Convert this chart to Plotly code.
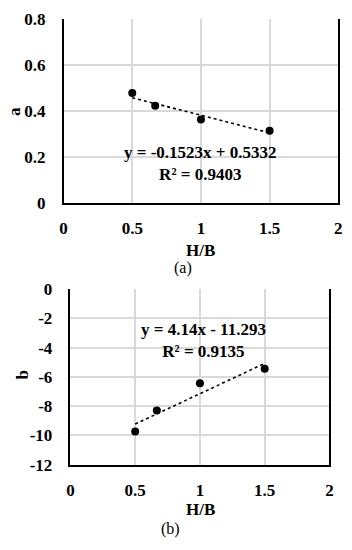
import plotly.graph_objects as go

# Data
hb = [0.5, 0.667, 1.0, 1.5]
a_vals = [0.477, 0.422, 0.363, 0.314]
b_vals = [-9.73, -8.30, -6.44, -5.45]
a_slope, a_int = -0.1523, 0.5332
b_slope, b_int = 4.14, -11.293
fit_x = [0.5, 1.5]
a_eq = "y = -0.1523x + 0.5332<br>R² = 0.9403"
b_eq = "y = 4.14x - 11.293<br>R² = 0.9135"

W, H = 352, 550
FONT = "'Liberation Serif', 'Times New Roman', Times, serif"
bold = dict(family=FONT, size=17, color="black", weight="bold")

fig = go.Figure()
fig.add_trace(go.Scatter(x=fit_x, y=[a_slope * v + a_int for v in fit_x], mode="lines",
                         line=dict(color="black", width=1.6, dash="dot"),
                         xaxis="x", yaxis="y", showlegend=False))
fig.add_trace(go.Scatter(x=hb, y=a_vals, mode="markers",
                         marker=dict(color="black", size=8),
                         xaxis="x", yaxis="y", showlegend=False))
fig.add_trace(go.Scatter(x=fit_x, y=[b_slope * v + b_int for v in fit_x], mode="lines",
                         line=dict(color="black", width=1.6, dash="dot"),
                         xaxis="x2", yaxis="y2", showlegend=False))
fig.add_trace(go.Scatter(x=hb, y=b_vals, mode="markers",
                         marker=dict(color="black", size=8),
                         xaxis="x2", yaxis="y2", showlegend=False))

def px_x(p):
    return p / W

def px_y(p):
    return 1 - p / H

xcommon = dict(range=[0, 2], tickvals=[0, 0.5, 1, 1.5, 2], ticktext=["0", "0.5", "1", "1.5", "2"],
               showgrid=True, gridcolor="#d9d9d9", gridwidth=1.5, showline=True, linecolor="black",
               linewidth=1.5, mirror=False, ticks="", tickfont=bold, zeroline=False,
               ticklabelstandoff=9)
ycommon = dict(showgrid=True, gridcolor="#d9d9d9", gridwidth=1.5, showline=True, linecolor="black",
               linewidth=1.5, mirror=True, ticks="", tickfont=bold, zeroline=False,
               ticklabelstandoff=13)

def lab(text, x, y, font, angle=0):
    return dict(text=text, x=px_x(x), y=px_y(y), xref="paper", yref="paper", showarrow=False,
                font=font, textangle=angle, xanchor="center", yanchor="middle")

fig.update_layout(
    width=W, height=H, margin=dict(l=0, r=0, t=0, b=0),
    paper_bgcolor="white", plot_bgcolor="white",
    xaxis=dict(xcommon, domain=[px_x(61), px_x(342)], anchor="y"),
    yaxis=dict(ycommon, domain=[px_y(201), px_y(10)], anchor="x", range=[0, 0.8],
               tickvals=[0, 0.2, 0.4, 0.6, 0.8], ticktext=["0", "0.2", "0.4", "0.6", "0.8"]),
    xaxis2=dict(xcommon, domain=[px_x(68), px_x(333)], anchor="y2"),
    yaxis2=dict(ycommon, domain=[px_y(472), px_y(290)], anchor="x2", range=[-12, 0],
                tickvals=[-12, -10, -8, -6, -4, -2, 0],
                ticktext=["-12", "-10", "-8", "-6", "-4", "-2", "0"]),
    annotations=[
        dict(text=a_eq, x=1.0, y=0.17, xref="x", yref="y", showarrow=False, font=bold,
             align="center", xanchor="center", yanchor="middle"),
        dict(text=b_eq, x=1.03, y=-3.5, xref="x2", yref="y2", showarrow=False, font=bold,
             align="center", xanchor="center", yanchor="middle"),
        lab("a", 11, 106, bold, -90),
        lab("b", 19, 379, bold, -90),
        lab("H/B", 201, 250, bold),
        lab("H/B", 201, 518, bold),
        lab("(a)", 183, 268, dict(family=FONT, size=16, color="black")),
        lab("(b)", 170, 539, dict(family=FONT, size=16, color="black")),
    ],
)

fig.write_html("out.html")
